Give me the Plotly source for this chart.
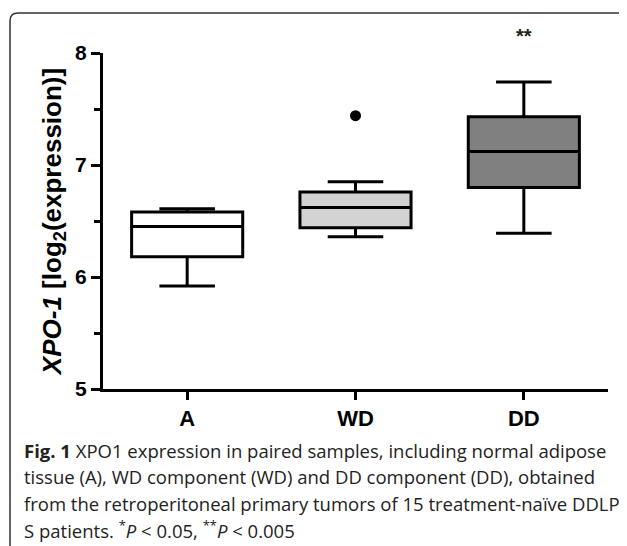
import plotly.graph_objects as go

# ---- data ----
categories = ["A", "WD", "DD"]
positions = [0, 1, 2]
q1_vals = [6.18, 6.44, 6.80]
median_vals = [6.45, 6.62, 7.12]
q3_vals = [6.58, 6.76, 7.43]
lower_whisker = [5.92, 6.36, 6.39]
upper_whisker = [6.61, 6.85, 7.74]
fill_colors = ["#ffffff", "#d3d3d3", "#808080"]
outlier_x = [1]
outlier_y = [7.44]
y_ticks = [5, 6, 7, 8]
significance = ["", "", "**"]

OFF = 8  # page body margin
W, H = 627 - OFF, 546 - OFF
ML, MR, MT, MB = 103 - OFF, 19, 53 - OFF, 157
PW, PH = W - ML - MR, H - MT - MB


def px(x):
    return (x - OFF - ML) / PW


def py(y):
    return (H - MB - (y - OFF)) / PH


fig = go.Figure()
for i, cat in enumerate(categories):
    fig.add_trace(go.Box(
        x=[positions[i]], q1=[q1_vals[i]], median=[median_vals[i]], q3=[q3_vals[i]],
        lowerfence=[lower_whisker[i]], upperfence=[upper_whisker[i]],
        width=0.66, whiskerwidth=0.5, fillcolor=fill_colors[i],
        line=dict(color="black", width=3), boxpoints=False, name=cat,
        showlegend=False, hoverinfo="skip",
    ))

fig.add_trace(go.Scatter(x=outlier_x, y=outlier_y, mode="markers",
                         marker=dict(color="black", size=11), showlegend=False))

for i, s in enumerate(significance):
    if s:
        fig.add_annotation(x=positions[i], y=py(36), xref="x", yref="paper", text="<b>" + s + "</b>",
                           showarrow=False, font=dict(family="Liberation Sans, Arial", size=20, color="#222"),
                           yanchor="middle")

fig.update_xaxes(range=[-0.5, 2.5], tickvals=positions, ticktext=["<b>%s</b>" % c for c in categories],
                 showline=True, linewidth=3, linecolor="black", ticks="outside", ticklen=8,
                 tickwidth=3, tickcolor="black", showgrid=False, zeroline=False,
                 tickfont=dict(family="Liberation Sans, Arial", size=22, color="black"))
fig.update_yaxes(range=[5, 8], tickvals=y_ticks, ticktext=["<b>%d</b>" % t for t in y_ticks],
                 showline=True, linewidth=3, linecolor="black", ticks="outside", ticklen=9,
                 tickwidth=3, tickcolor="black", showgrid=False, zeroline=False,
                 tickfont=dict(family="Liberation Sans, Arial", size=21, color="black"),
                 minor=dict(tickvals=[5.5, 6.5, 7.5], ticks="outside", ticklen=6, tickwidth=3,
                            tickcolor="black", showgrid=False),
                 title=dict(text="<b><i>XPO-1</i> [log<sub>2</sub>(expression)]</b>",
                            font=dict(family="Liberation Sans, Arial", size=26, color="black"),
                            standoff=7))

# frame around figure
path = "M %f,%f L %f,%f Q %f,%f %f,%f L %f,%f Q %f,%f %f,%f" % (
    px(10), py(560), px(10), py(21), px(10), py(13), px(18), py(13),
    px(619), py(13), px(626), py(13), px(628), py(17))
fig.add_shape(type="path", path=path, xref="paper", yref="paper",
              line=dict(color="#333", width=1.5))

cap_font = dict(family="Open Sans", size=18.5, color="#222")
caption_lines = [
    "<b>Fig. 1</b> XPO1 expression in paired samples, including normal adipose",
    "tissue (A), WD component (WD) and DD component (DD), obtained",
    "from the retroperitoneal primary tumors of 15 treatment-naïve DDLP",
    "S patients. <sup>*</sup><i>P</i> &lt; 0.05, <sup>**</sup><i>P</i> &lt; 0.005",
]
for k, line in enumerate(caption_lines):
    fig.add_annotation(x=px(22), y=py(450 + 26.5 * k), xref="paper", yref="paper",
                       text=line, showarrow=False, xanchor="left", yanchor="middle",
                       align="left", font=cap_font)

fig.update_layout(width=W, height=H, margin=dict(l=ML, r=MR, t=MT, b=MB),
                  plot_bgcolor="white", paper_bgcolor="white")

fig.write_html("out.html")
